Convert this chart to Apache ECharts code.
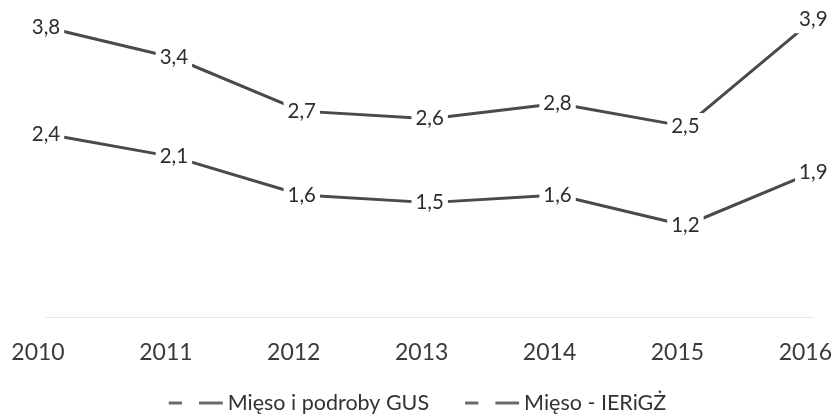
<!DOCTYPE html>
<html>
<head>
<meta charset="utf-8">
<script src="https://cdn.jsdelivr.net/npm/echarts@6/dist/echarts.min.js"></script>
<style>html,body{margin:0;padding:0;background:#fff}#c{width:835px;height:420px}</style>
</head>
<body>
<div id="c"></div>
<script>
const categories = ['2010','2011','2012','2013','2014','2015','2016'];
const seriesNames = ['Mięso i podroby GUS', 'Mięso - IERiGŻ'];
const gusValues = [3.8, 3.4, 2.7, 2.6, 2.8, 2.5, 3.9];
const ierigzValues = [2.4, 2.1, 1.6, 1.5, 1.6, 1.2, 1.9];

const font = 'Lato';
const lineColor = '#4a4a4a';
const legendIcon = 'path://M0,0h14v3h-14z M32,0h25v3h-25z';

function lineSeries(name, vals) {
  return {
    name: name, type: 'line', data: vals,
    symbol: 'none', showSymbol: false,
    lineStyle: { color: lineColor, width: 3 }, itemStyle: { color: '#6a6a6a' },
    z: 2
  };
}
function labelSeries(vals) {
  return {
    type: 'custom',
    data: vals.map((v, i) => [i, v]),
    z: 10,
    silent: true,
    renderItem: function (params, api) {
      const p = api.coord([api.value(0), api.value(1)]);
      return {
        type: 'text',
        x: p[0], y: p[1],
        style: {
          text: String(api.value(1)).replace('.', ','),
          fontFamily: font, fontSize: 20.5,
          fill: '#2e2e2e',
          align: 'center', verticalAlign: 'middle',
          backgroundColor: '#fff',
          padding: [3, 4]
        }
      };
    }
  };
}

const chart = echarts.init(document.getElementById('c'));
chart.setOption({
  animation: false,
  grid: { left: 46, right: 19, top: 12, bottom: 103, containLabel: false },
  xAxis: {
    type: 'category',
    data: categories,
    boundaryGap: false,
    axisLine: { show: true, lineStyle: { color: '#e6e6e6', width: 1 } },
    axisTick: { show: false },
    axisLabel: { fontFamily: font, fontSize: 23, color: '#3a3a3a', margin: 24, padding: [0, 16, 0, 0] }
  },
  yAxis: { type: 'value', min: 0, max: 4, show: false, splitLine: { show: false } },
  legend: {
    bottom: 1,
    left: 'center',
    itemGap: 36,
    itemWidth: 54,
    itemHeight: 3,
    icon: legendIcon,
    itemStyle: { color: '#6a6a6a', opacity: 1 },
    textStyle: { fontFamily: font, fontSize: 21.5, color: '#333' },
    data: seriesNames
  },
  series: [
    lineSeries(seriesNames[0], gusValues),
    lineSeries(seriesNames[1], ierigzValues),
    labelSeries(gusValues),
    labelSeries(ierigzValues)
  ]
});
</script>
</body>
</html>
